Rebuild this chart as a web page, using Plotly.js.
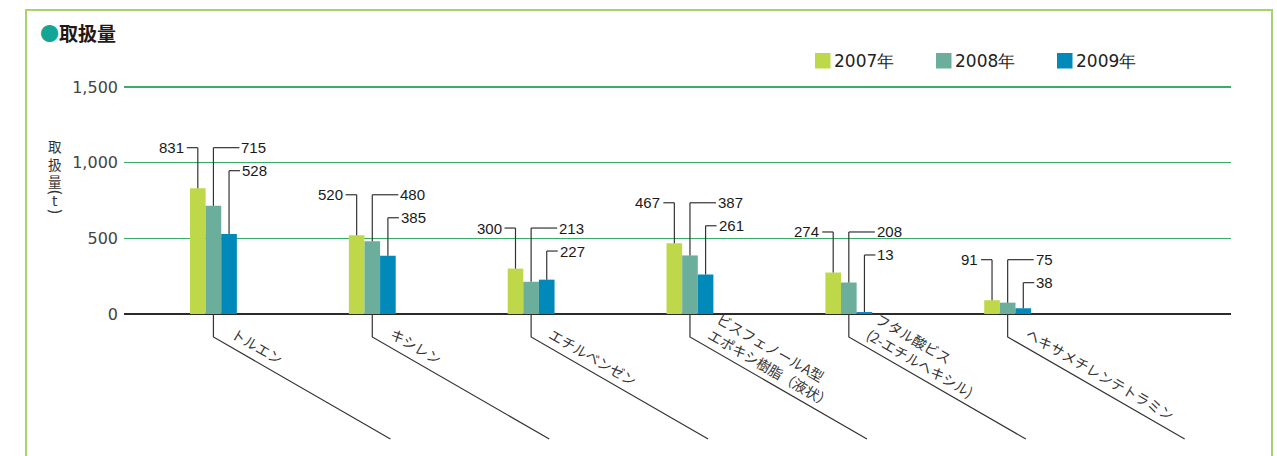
<!DOCTYPE html>
<html><head><meta charset="utf-8">
<script src="https://cdn.plot.ly/plotly-3.0.1.min.js"></script>
<style>html,body{margin:0;padding:0;background:#fff;}#chart{width:1277px;height:456px;}</style>
</head><body><div id="chart"></div>
<script>
// ---- data ----
const categories = ['トルエン','キシレン','エチルベンゼン','ビスフェノールA型<br>エポキシ樹脂（液状）','フタル酸ビス<br>(2-エチルヘキシル)','ヘキサメチレンテトラミン'];
const seriesNames = ['2007年','2008年','2009年'];
const v2007 = [831,520,300,467,274,91];
const v2008 = [715,480,213,387,208,75];
const v2009 = [528,385,227,261,13,38];
const yTickVals = [0,500,1000,1500];
const yTickText = ['0','500','1,000','1,500'];
const titleText = '取扱量';
const yTitleText = '取<br>扱<br>量';
const yUnit = 't';

// ---- style / layout ----
const colors = ['#bed84a','#6aae9b','#0089b9'];
const W=1277, H=456;
const M = {l:124, r:46, t:84, b:142};
const plotW = W-M.l-M.r, plotH = H-M.t-M.b;
const yMax = 1500*plotH/227;   // keeps 1,500 gridline just inside the plot area
const pxPerUnit = plotH / yMax;
const xRange = [-0.563, 6.406];
const barGap = 0.705;
const barW = (1-barGap)/3;
const series = [v2007, v2008, v2009];
const idx = categories.map((_,i)=>i);
const px2pX = px => (px - M.l)/plotW;
const px2pY = py => (H - M.b - py)/plotH;
const numFont = {family:'Liberation Sans, Arial, sans-serif', size:15, color:'#1a1a1a'};
const jpFont = {family:'Noto Sans CJK JP, sans-serif', size:14, color:'#333'};

const traces = series.map((vals,s)=>({
  type:'bar', x: idx, y: vals, name: seriesNames[s],
  marker:{color:colors[s], line:{width:0}}, hoverinfo:'skip', showlegend:false
}));

const shapes = [];
const annotations = [];

// frame
shapes.push({type:'rect', xref:'paper', yref:'paper', x0:px2pX(26), x1:px2pX(1272), y0:px2pY(10), y1:px2pY(480),
  line:{color:'#a6d36b', width:2}, fillcolor:'rgba(0,0,0,0)', layer:'below'});
// light shadow under the baseline
shapes.push({type:'line', xref:'paper', yref:'y', x0:0, x1:1, ysizemode:'pixel', yanchor:0, y0:-1.5, y1:-1.5,
  line:{color:'#cfcfcf', width:1.5}, layer:'below'});

// value leader lines and labels
const lineStyle = {color:'#333', width:1.2};
idx.forEach(i=>{
  const groupMax = Math.max(v2007[i], v2008[i], v2009[i]);
  series.forEach((vals,s)=>{
    const xc = i + (s-1)*barW;
    const level = groupMax + 268 - (s===2 ? 23/pxPerUnit : 0);
    const hlen = s===0 ? -11 : (s===1 ? 26 : 11);
    shapes.push({type:'line', xref:'x', yref:'y', x0:xc, x1:xc, y0:vals[i], y1:level, line:lineStyle});
    shapes.push({type:'line', xref:'x', yref:'y', xsizemode:'pixel', xanchor:xc, x0:0, x1:hlen, y0:level, y1:level, line:lineStyle});
    annotations.push({xref:'x', yref:'y', x:xc, y:level, text:String(vals[i]), showarrow:false,
      xanchor: s===0 ? 'right':'left', yanchor:'middle', xshift: s===0 ? hlen-3 : hlen+2,
      font:numFont, borderpad:0, borderwidth:0});
  });
  // category leader
  shapes.push({type:'path', xref:'x', yref:'y domain', xsizemode:'pixel', ysizemode:'pixel', xanchor:i, yanchor:0,
    path:'M0,0 V-23 L177,-125', line:lineStyle});
  const nLines = categories[i].split('<br>').length;
  const hh = 20.3 + (nLines-1)*18.2;
  const c30 = Math.cos(Math.PI/6);
  annotations.push({xref:'x', yref:'y', x:i, y:0, text:categories[i], showarrow:false, textangle:30,
    xanchor:'left', yanchor:'top', align:'left', xshift:14.5, yshift:-(27.4 - hh*c30),
    font:jpFont, borderpad:0, borderwidth:0});
});

// legend (manual)
seriesNames.forEach((nm,s)=>{
  const x0 = 815 + 121*s;
  shapes.push({type:'rect', xref:'paper', yref:'paper', x0:px2pX(x0), x1:px2pX(x0+15.5), y0:px2pY(53), y1:px2pY(68.5),
    fillcolor:colors[s], line:{width:0}});
  annotations.push({xref:'paper', yref:'paper', x:px2pX(x0+19), y:px2pY(61), xanchor:'left', yanchor:'middle',
    text:nm, showarrow:false, font:{family:'DejaVu Sans, sans-serif', size:17, color:'#222'}, borderpad:0, borderwidth:0});
});

// y-axis title (vertical)
const yTitleFont = {family:'Noto Sans CJK JP, sans-serif', size:13.5, color:'#333'};
annotations.push({xref:'paper', yref:'paper', x:px2pX(55), y:px2pY(163.5), xanchor:'center', yanchor:'middle',
  text:yTitleText, showarrow:false, font:yTitleFont, borderpad:0, borderwidth:0});
annotations.push({xref:'paper', yref:'paper', x:px2pX(55), y:px2pY(192.5), xanchor:'center', yanchor:'middle',
  text:'(', textangle:90, showarrow:false, font:{family:'DejaVu Sans, sans-serif', size:15, color:'#333'}, borderpad:0, borderwidth:0});
annotations.push({xref:'paper', yref:'paper', x:px2pX(55), y:px2pY(201), xanchor:'center', yanchor:'middle',
  text:yUnit, showarrow:false, font:{family:'DejaVu Sans, sans-serif', size:14, color:'#333'}, borderpad:0, borderwidth:0});
annotations.push({xref:'paper', yref:'paper', x:px2pX(55), y:px2pY(211.5), xanchor:'center', yanchor:'middle',
  text:')', textangle:90, showarrow:false, font:{family:'DejaVu Sans, sans-serif', size:15, color:'#333'}, borderpad:0, borderwidth:0});

const layout = {
  width:W, height:H, margin:M, paper_bgcolor:'#fff', plot_bgcolor:'#fff',
  barmode:'group', bargap:barGap, bargroupgap:0,
  title:{text:'<span style="color:#13a695">●</span>'+titleText, xref:'container', yref:'container',
    x:40/W, xanchor:'left', y:1-34/H, yanchor:'middle',
    font:{family:'Noto Sans CJK JP, sans-serif', size:19, color:'#231815', weight:700}},
  xaxis:{range:xRange, showgrid:false, showticklabels:false, zeroline:false, showline:false, ticks:'', fixedrange:true},
  yaxis:{range:[0,yMax], tickvals:yTickVals, ticktext:yTickText, showgrid:true, gridcolor:'#38ad6a', gridwidth:1.3,
    zeroline:true, zerolinecolor:'#2b2b2b', zerolinewidth:1.6, showline:false, ticks:'', ticklabelstandoff:5,
    tickfont:{family:'DejaVu Sans, sans-serif', size:16, color:'#444'}, fixedrange:true},
  shapes:shapes, annotations:annotations, showlegend:false
};
Plotly.newPlot('chart', traces, layout, {staticPlot:true, displayModeBar:false});
</script></body></html>
